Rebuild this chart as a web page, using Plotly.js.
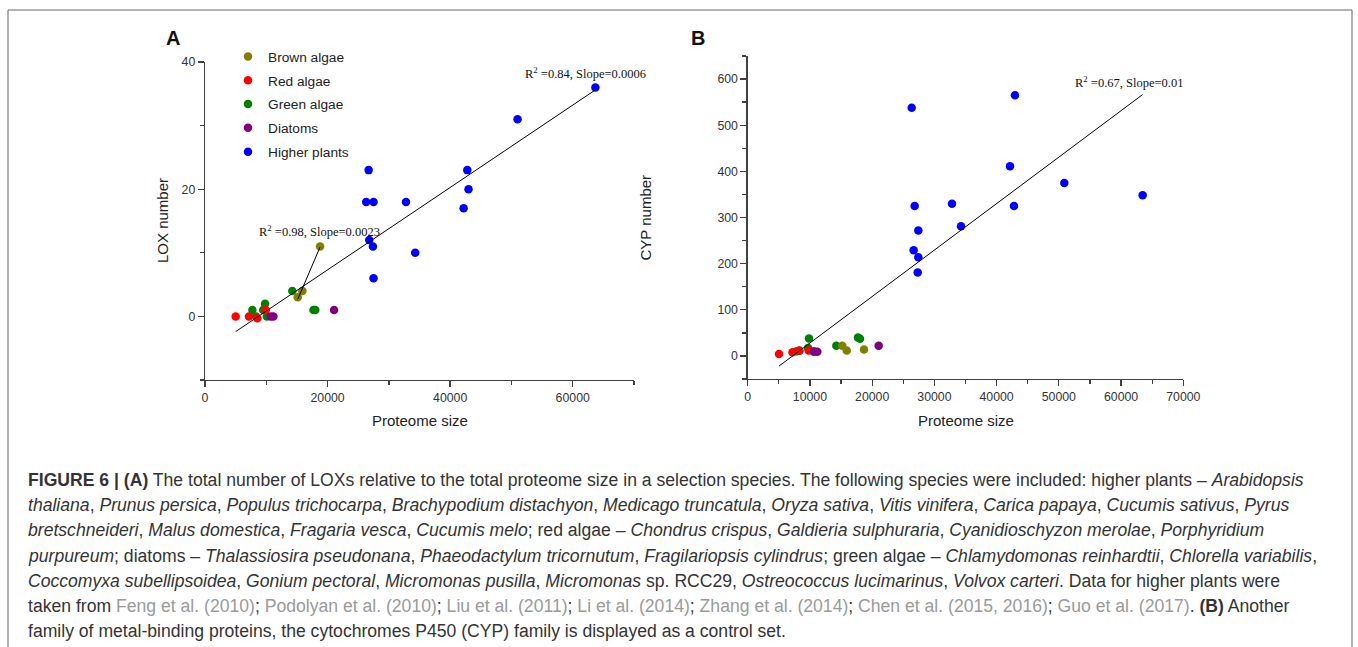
<!DOCTYPE html>
<html>
<head>
<meta charset="utf-8">
<script src="https://cdn.plot.ly/plotly-3.0.1.min.js"></script>
<style>html,body{margin:0;padding:0;background:#fff;}#chart{width:1358px;height:647px;}</style>
</head>
<body>
<div id="chart"></div>
<script>
// ---------- DATA ----------
const groupNames = ['Brown algae', 'Red algae', 'Green algae', 'Diatoms', 'Higher plants'];

// Panel A: LOX number vs proteome size
const brownLoxX  = [18780, 15890, 15130];
const brownLoxY  = [11, 4, 3];
const redLoxX    = [5010, 7180, 8540, 9910];
const redLoxY    = [0, 0, -0.3, 1];
const greenLoxX  = [14250, 9800, 7730, 9500, 17700, 18000, 8300, 10100];
const greenLoxY  = [4, 2, 1, 1, 1, 1, 0, 0];
const diatomLoxX = [10720, 11160, 21060];
const diatomLoxY = [0, 0, 1];
const plantLoxX  = [63700, 51000, 26700, 42800, 43000, 26300, 27500, 32800, 42200, 26800, 27400, 34300, 27500];
const plantLoxY  = [36, 31, 23, 23, 20, 18, 18, 18, 17, 12, 11, 10, 6];

// Panel B: CYP number vs proteome size
const brownCypX  = [15200, 15910, 18690];
const brownCypY  = [22, 12, 14];
const redCypX    = [5030, 7200, 8300, 9800];
const redCypY    = [4, 8, 12, 12];
const greenCypX  = [14240, 9850, 9700, 7870, 17720, 18050, 8300, 10600];
const greenCypY  = [22, 38, 17, 10, 40, 37, 11, 10];
const diatomCypX = [10650, 11190, 21050];
const diatomCypY = [9, 9, 22];
const plantCypX  = [26350, 42950, 42150, 50880, 63470, 26830, 32830, 42790, 34280, 27420, 26670, 27420, 27320];
const plantCypY  = [538, 565, 411, 375, 348, 325, 330, 325, 281, 272, 229, 214, 181];

// Fit statistics as printed on the chart
const fitLabelAll = 'R<sup>2</sup> =0.84, Slope=0.0006';
const fitLabelBrown = 'R<sup>2</sup> =0.98, Slope=0.0023';
const fitLabelCyp = 'R<sup>2</sup> =0.67, Slope=0.01';

// Tick settings
const loxTicks = [0, 20, 40];
const cypTicks = [0, 100, 200, 300, 400, 500, 600];
const sizeTicksA = [0, 20000, 40000, 60000];
const sizeTicksB = [0, 10000, 20000, 30000, 40000, 50000, 60000, 70000];

// ---------- STYLE ----------
const colors = ['#808000', '#ff0000', '#008000', '#800080', '#0000ff'];
const drawOrder = [2, 0, 1, 3, 4]; // green, brown, red, diatoms, plants
const W = 1358, H = 647;
const px = v => v / W;
const py = v => 1 - v / H;
const SANS = 'Liberation Sans, Arial, sans-serif';
const SERIF = 'Liberation Serif, Times New Roman, serif';
const axisCol = '#404040';

function ols(xs, ys) {
  const n = xs.length;
  const mx = xs.reduce((a, b) => a + b, 0) / n;
  const my = ys.reduce((a, b) => a + b, 0) / n;
  let sxy = 0, sxx = 0;
  for (let i = 0; i < n; i++) { sxy += (xs[i] - mx) * (ys[i] - my); sxx += (xs[i] - mx) ** 2; }
  const slope = sxy / sxx;
  const xmin = Math.min(...xs), xmax = Math.max(...xs);
  return { x: [xmin, xmax], y: [my + slope * (xmin - mx), my + slope * (xmax - mx)] };
}

const loxX = [brownLoxX, redLoxX, greenLoxX, diatomLoxX, plantLoxX];
const loxY = [brownLoxY, redLoxY, greenLoxY, diatomLoxY, plantLoxY];
const cypX = [brownCypX, redCypX, greenCypX, diatomCypX, plantCypX];
const cypY = [brownCypY, redCypY, greenCypY, diatomCypY, plantCypY];

const traces = [];
drawOrder.forEach(i => {
  traces.push({
    type: 'scatter', mode: 'markers', x: loxX[i], y: loxY[i], name: groupNames[i],
    xaxis: 'x', yaxis: 'y', legendgroup: 'g' + i, legendrank: i + 1,
    marker: { color: colors[i], size: 8.5 }, hoverinfo: 'x+y+name'
  });
});
drawOrder.forEach(i => {
  traces.push({
    type: 'scatter', mode: 'markers', x: cypX[i], y: cypY[i], name: groupNames[i],
    xaxis: 'x2', yaxis: 'y2', legendgroup: 'g' + i, showlegend: false,
    marker: { color: colors[i], size: 8.5 }, hoverinfo: 'x+y+name'
  });
});
const fitA = ols([].concat(...loxX), [].concat(...loxY));
const fitBrown = ols(brownLoxX, brownLoxY);
const fitB = ols([].concat(...cypX), [].concat(...cypY));
[[fitA, 'x', 'y'], [fitBrown, 'x', 'y'], [fitB, 'x2', 'y2']].forEach(([f, xa, ya]) => {
  traces.push({ type: 'scatter', mode: 'lines', x: f.x, y: f.y, xaxis: xa, yaxis: ya,
    line: { color: '#000', width: 1 }, showlegend: false, hoverinfo: 'skip' });
});

function axis(extra) {
  return Object.assign({
    showline: true, linecolor: axisCol, linewidth: 1.3, mirror: false,
    ticks: 'outside', ticklen: 6, tickwidth: 1.3, tickcolor: axisCol,
    showgrid: false, zeroline: false, fixedrange: true,
    tickfont: { family: SANS, size: 12.3, color: '#333' }
  }, extra);
}

const layout = {
  width: W, height: H,
  margin: { l: 0, r: 0, t: 0, b: 0 },
  paper_bgcolor: '#fff', plot_bgcolor: 'rgba(0,0,0,0)',
  showlegend: true,
  legend: {
    x: px(228), xanchor: 'left', y: py(41), yanchor: 'top',
    bgcolor: 'rgba(0,0,0,0)', borderwidth: 0,
    font: { family: SANS, size: 13.7, color: '#222' },
    traceorder: 'grouped', tracegroupgap: 3, itemwidth: 30
  },
  xaxis: axis({ domain: [px(205), px(634)], range: [0, 70000], anchor: 'y',
    tickvals: sizeTicksA, ticktext: sizeTicksA.map(String),
    minor: { dtick: 10000, tick0: 0, ticks: 'outside', ticklen: 4, tickwidth: 1.3, tickcolor: axisCol } }),
  yaxis: axis({ domain: [py(380), py(62)], range: [-10, 40], anchor: 'x',
    tickvals: loxTicks, ticktext: loxTicks.map(String),
    minor: { dtick: 10, tick0: 0, ticks: 'outside', ticklen: 4, tickwidth: 1.3, tickcolor: axisCol } }),
  xaxis2: axis({ domain: [px(747.7), px(1183.3)], range: [0, 70000], anchor: 'y2',
    tickvals: sizeTicksB, ticktext: sizeTicksB.map(String),
    minor: { dtick: 5000, tick0: 0, ticks: 'outside', ticklen: 4, tickwidth: 1.3, tickcolor: axisCol } }),
  yaxis2: axis({ domain: [py(379), py(56)], range: [-50, 650], anchor: 'x2',
    tickvals: cypTicks, ticktext: cypTicks.map(String),
    minor: { dtick: 50, tick0: 0, ticks: 'outside', ticklen: 4, tickwidth: 1.3, tickcolor: axisCol } }),
  shapes: [
    { type: 'line', xref: 'paper', yref: 'paper', x0: px(8), x1: px(1352), y0: py(10), y1: py(10), line: { color: '#666', width: 1 } },
    { type: 'line', xref: 'paper', yref: 'paper', x0: px(8), x1: px(8), y0: py(10), y1: 0, line: { color: '#666', width: 1 } },
    { type: 'line', xref: 'paper', yref: 'paper', x0: px(1352), x1: px(1352), y0: py(10), y1: 0, line: { color: '#666', width: 1 } }
  ],
  annotations: []
};

const ann = layout.annotations;
function addText(text, x, y, opts) {
  ann.push(Object.assign({ text: text, xref: 'paper', yref: 'paper', x: px(x), y: py(y),
    showarrow: false, xanchor: 'left', yanchor: 'middle',
    font: { family: SANS, size: 14, color: '#222' } }, opts || {}));
}
// Panel letters
addText('<b>A</b>', 172.7, 38.3, { xanchor: 'center', font: { family: SANS, size: 20, color: '#111' } });
addText('<b>B</b>', 698.3, 38.3, { xanchor: 'center', font: { family: SANS, size: 20, color: '#111' } });
// Axis titles
addText('LOX number', 163, 221, { xanchor: 'center', textangle: -90, font: { family: SANS, size: 15, color: '#222' } });
addText('CYP number', 645, 217.5, { xanchor: 'center', textangle: -90, font: { family: SANS, size: 15, color: '#222' } });
addText('Proteome size', 419.5, 420, { xanchor: 'center', font: { family: SANS, size: 15, color: '#222' } });
addText('Proteome size', 965.5, 420, { xanchor: 'center', font: { family: SANS, size: 15, color: '#222' } });
// Fit labels
addText(fitLabelAll, 523, 73, { font: { family: SERIF, size: 12.5, color: '#111' } });
addText(fitLabelBrown, 256.7, 231, { font: { family: SERIF, size: 12.5, color: '#111' } });
addText(fitLabelCyp, 1072.7, 82, { font: { family: SERIF, size: 12.5, color: '#111' } });

// Caption
const cite = t => '<span style="color:#9a9a9a">' + t + '</span>';
const captionLines = [
  '<b>FIGURE 6 | (A)</b> The total number of LOXs relative to the total proteome size in a selection species. The following species were included: higher plants – <i>Arabidopsis</i>',
  '<i>thaliana</i>, <i>Prunus persica</i>, <i>Populus trichocarpa</i>, <i>Brachypodium distachyon</i>, <i>Medicago truncatula</i>, <i>Oryza sativa</i>, <i>Vitis vinifera</i>, <i>Carica papaya</i>, <i>Cucumis sativus</i>, <i>Pyrus</i>',
  '<i>bretschneideri</i>, <i>Malus domestica</i>, <i>Fragaria vesca</i>, <i>Cucumis melo</i>; red algae – <i>Chondrus crispus</i>, <i>Galdieria sulphuraria</i>, <i>Cyanidioschyzon merolae</i>, <i>Porphyridium</i>',
  '<i>purpureum</i>; diatoms – <i>Thalassiosira pseudonana</i>, <i>Phaeodactylum tricornutum</i>, <i>Fragilariopsis cylindrus</i>; green algae – <i>Chlamydomonas reinhardtii</i>, <i>Chlorella variabilis</i>,',
  '<i>Coccomyxa subellipsoidea</i>, <i>Gonium pectoral</i>, <i>Micromonas pusilla</i>, <i>Micromonas</i> sp. RCC29, <i>Ostreococcus lucimarinus</i>, <i>Volvox carteri</i>. Data for higher plants were',
  'taken from ' + cite('Feng et al. (2010)') + '; ' + cite('Podolyan et al. (2010)') + '; ' + cite('Liu et al. (2011)') + '; ' + cite('Li et al. (2014)') + '; ' + cite('Zhang et al. (2014)') + '; ' + cite('Chen et al. (2015, 2016)') + '; ' + cite('Guo et al. (2017)') + '. <b>(B)</b> Another',
  'family of metal-binding proteins, the cytochromes P450 (CYP) family is displayed as a control set.'
];
captionLines.forEach((t, i) => {
  addText(t, 26, 480 + i * 25.2, { font: { family: SANS, size: 17.6, color: '#333' } });
});

Plotly.newPlot('chart', traces, layout, { displayModeBar: false, staticPlot: true });
</script>
</body>
</html>
